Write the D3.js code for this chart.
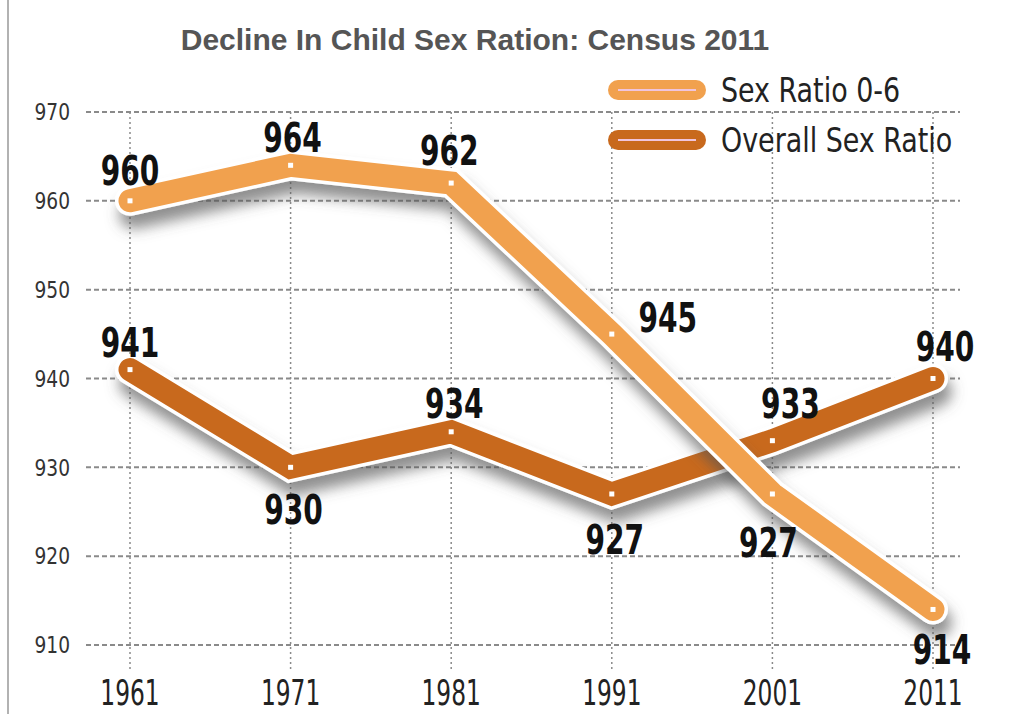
<!DOCTYPE html>
<html>
<head>
<meta charset="utf-8">
<script src="https://cdn.jsdelivr.net/npm/d3@7"></script>
<style>
  body { margin: 0; background: #fff; }
  svg { display: block; }
</style>
</head>
<body>
<div id="chart"></div>
<script>
// data
var years = [1961, 1971, 1981, 1991, 2001, 2011];
var childRatio = [960, 964, 962, 945, 927, 914];
var overallRatio = [941, 930, 934, 927, 933, 940];
var yTicks = [910, 920, 930, 940, 950, 960, 970];
// label offsets (dx, dy) relative to point, dy is to the baseline
var childLabelOff = [[0, -16], [2, -13], [-2, -18], [56, -2], [-4, 63], [9, 55]];
var overallLabelOff = [[0, -13], [3, 57], [3, -14], [3, 60], [18, -23], [12, -18]];

var W = 1016, H = 714;
var cond = "'DejaVu Sans Condensed', 'DejaVu Sans', sans-serif";

var svg = d3.select("#chart").append("svg")
  .attr("width", W).attr("height", H);

var defs = svg.append("defs");
var f = defs.append("filter").attr("id", "shadow")
  .attr("x", "-10%").attr("y", "-10%").attr("width", "130%").attr("height", "150%");
f.append("feDropShadow")
  .attr("dx", 4).attr("dy", 13).attr("stdDeviation", 7)
  .attr("flood-color", "#555").attr("flood-opacity", 0.65);

var x = d3.scaleLinear().domain([1961, 2011]).range([130, 933]);
var y = d3.scaleLinear().domain([910, 970]).range([645, 112]);

// squeezed text helper (the source uses a very condensed face)
function sqText(g, tx, ty, sx) {
  return g.append("text")
    .attr("transform", "translate(" + tx + "," + ty + ") scale(" + sx + ",1)");
}

// left border
svg.append("line")
  .attr("x1", 8).attr("x2", 8).attr("y1", 0).attr("y2", H)
  .attr("stroke", "#999").attr("stroke-width", 1.5);

// title
svg.append("text")
  .attr("x", 475).attr("y", 50)
  .attr("text-anchor", "middle")
  .attr("font-family", "'Liberation Sans', Arial, sans-serif")
  .attr("font-weight", "bold")
  .attr("font-size", 30)
  .attr("fill", "#555")
  .text("Decline In Child Sex Ration: Census 2011");

// grid
var grid = svg.append("g");
grid.selectAll("line.h").data(yTicks).enter().append("line")
  .attr("class", "h")
  .attr("x1", 86).attr("x2", 960)
  .attr("y1", function(d) { return y(d); }).attr("y2", function(d) { return y(d); })
  .attr("stroke", "#8a8a8a").attr("stroke-width", 2)
  .attr("stroke-dasharray", "5,3");
grid.selectAll("line.v").data(years).enter().append("line")
  .attr("class", "v")
  .attr("x1", function(d) { return x(d); }).attr("x2", function(d) { return x(d); })
  .attr("y1", y(970)).attr("y2", 672)
  .attr("stroke", "#8a8a8a").attr("stroke-width", 1.5)
  .attr("stroke-dasharray", "2,3");

// y axis labels
var yl = svg.append("g");
yTicks.forEach(function(d) {
  sqText(yl, 70, y(d), 0.9)
    .attr("dy", "0.36em")
    .attr("text-anchor", "end")
    .attr("font-family", cond)
    .attr("font-size", 23)
    .attr("fill", "#333")
    .text(d);
});

// x axis labels
var xl = svg.append("g");
years.forEach(function(d) {
  sqText(xl, x(d), 705, 0.72)
    .attr("text-anchor", "middle")
    .attr("font-family", cond)
    .attr("font-size", 36)
    .attr("fill", "#222")
    .text(d);
});

var line = d3.line()
  .x(function(d) { return x(d[0]); })
  .y(function(d) { return y(d[1]); });

function drawSeries(vals, color) {
  var pts = years.map(function(yr, i) { return [yr, vals[i]]; });
  var g = svg.append("g");
  g.append("path")
    .attr("d", line(pts))
    .attr("fill", "none")
    .attr("stroke", "#fff")
    .attr("stroke-width", 30)
    .attr("stroke-linejoin", "miter")
    .attr("stroke-linecap", "round")
    .attr("filter", "url(#shadow)");
  g.append("path")
    .attr("d", line(pts))
    .attr("fill", "none")
    .attr("stroke", color)
    .attr("stroke-width", 23)
    .attr("stroke-linejoin", "miter")
    .attr("stroke-linecap", "round");
  g.selectAll("rect").data(pts).enter().append("rect")
    .attr("x", function(d) { return x(d[0]) - 2.5; })
    .attr("y", function(d) { return y(d[1]) - 2.5; })
    .attr("width", 5).attr("height", 5)
    .attr("fill", "#fff");
}

drawSeries(overallRatio, "#c8691d");
drawSeries(childRatio, "#f1a14e");

function drawLabels(vals, offs) {
  var g = svg.append("g");
  vals.forEach(function(d, i) {
    sqText(g, x(years[i]) + offs[i][0], y(d) + offs[i][1], 0.78)
      .attr("text-anchor", "middle")
      .attr("font-family", cond)
      .attr("font-weight", "bold")
      .attr("font-size", 40)
      .attr("fill", "#111")
      .text(d);
  });
}
drawLabels(childRatio, childLabelOff);
drawLabels(overallRatio, overallLabelOff);

// legend
var legend = [
  {name: "Sex Ratio 0-6", color: "#f1a14e", y: 90},
  {name: "Overall Sex Ratio", color: "#c8691d", y: 140}
];
var lg = svg.append("g");
legend.forEach(function(l) {
  lg.append("line")
    .attr("x1", 618).attr("x2", 696)
    .attr("y1", l.y).attr("y2", l.y)
    .attr("stroke", l.color).attr("stroke-width", 20)
    .attr("stroke-linecap", "round");
  lg.append("line")
    .attr("x1", 618).attr("x2", 696)
    .attr("y1", l.y).attr("y2", l.y)
    .attr("stroke", "#f0c4dc").attr("stroke-width", 2);
  sqText(lg, 721, l.y, 0.88)
    .attr("dy", "0.36em")
    .attr("font-family", cond)
    .attr("font-size", 34)
    .attr("fill", "#222")
    .text(l.name);
});
</script>
</body>
</html>
